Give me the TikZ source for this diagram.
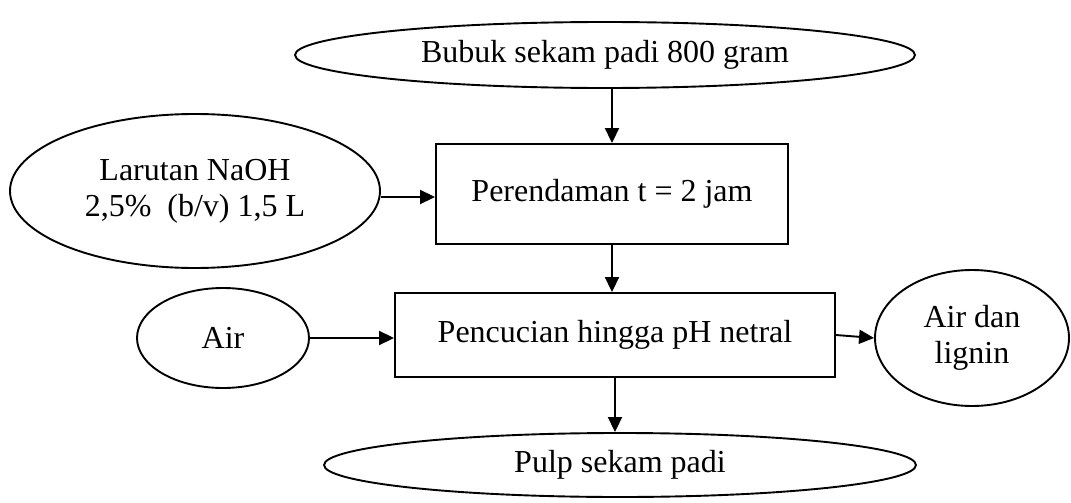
\documentclass[tikz,border=0pt]{standalone}
\usepackage{fontspec}
\setmainfont{Liberation Serif}
\usetikzlibrary{shapes.geometric,arrows.meta}
\begin{document}
\begin{tikzpicture}[x=1pt,y=-1pt,
  every node/.style={font=\fontsize{32}{36}\selectfont},
  ell/.style={ellipse,draw,line width=1.9pt,inner sep=0pt,align=center},
  boxn/.style={rectangle,draw,line width=1.9pt,inner sep=0pt,align=center},
  arr/.style={line width=1.9pt,-{Triangle[length=15pt,width=14pt]}}]
\useasboundingbox (0,0) rectangle (1071,503);
\node[ell,minimum width=620pt,minimum height=66pt] (top) at (605,55) {Bubuk sekam padi 800 gram};
\node[boxn,minimum width=352pt,minimum height=100pt] (box1) at (612,194) {Perendaman t = 2 jam};
\node[ell,minimum width=370pt,minimum height=154pt] (naoh) at (195,191) {Larutan NaOH\\2,5\%\ \ (b/v) 1,5 L};
\node[boxn,minimum width=440pt,minimum height=84pt] (box2) at (615,335) {Pencucian hingga pH netral};
\node[ell,minimum width=172pt,minimum height=100pt] (air) at (223,338) {Air};
\node[ell,minimum width=194pt,minimum height=136pt] (lig) at (972,338) {Air dan\\lignin};
\node[ell,minimum width=592pt,minimum height=64pt] (bot) at (620,465) {Pulp sekam padi};
\draw[arr] (top.south -| box1.north) -- (box1.north);
\draw[arr] ([yshift=-6pt]naoh.east) -- ([yshift=-6pt]naoh.east -| box1.west);
\draw[arr] (box1.south) -- (box1.south |- box2.north);
\draw[arr] (air.east) -- (air.east -| box2.west);
\draw[arr] (box2.east) -- (lig.west);
\draw[arr] (box2.south) -- (box2.south |- bot.north);
\end{tikzpicture}
\end{document}
